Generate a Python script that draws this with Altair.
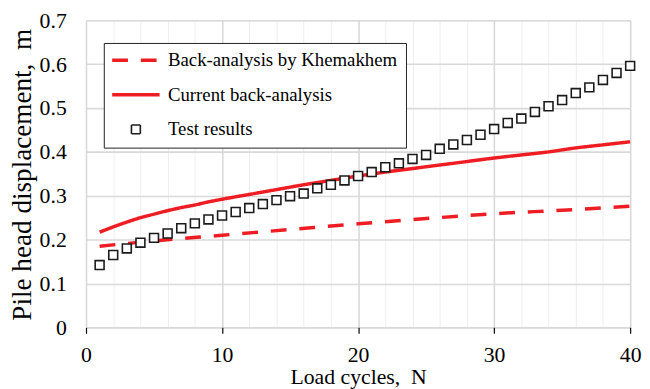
import altair as alt
import pandas as pd

series_names = ["Back-analysis by Khemakhem", "Current back-analysis", "Test results"]

test_n = list(range(1, 41))
test_disp = [0.142, 0.165, 0.180, 0.193, 0.204, 0.214, 0.226, 0.237, 0.246, 0.255,
             0.263, 0.272, 0.281, 0.290, 0.299, 0.305, 0.317, 0.325, 0.335, 0.345,
             0.354, 0.365, 0.374, 0.384, 0.393, 0.407, 0.417, 0.427, 0.439, 0.452,
             0.466, 0.476, 0.491, 0.504, 0.518, 0.534, 0.547, 0.564, 0.580, 0.596]

current_n = [1, 2, 3, 4, 5, 6, 7, 8, 9, 10, 12, 14, 16, 18, 20, 22, 24, 26, 28, 30, 32, 34, 36, 38, 40]
current_disp = [0.217, 0.229, 0.240, 0.250, 0.258, 0.266, 0.273, 0.279, 0.286, 0.292,
                0.303, 0.314, 0.325, 0.335, 0.345, 0.354, 0.362, 0.370, 0.378, 0.386,
                0.393, 0.400, 0.409, 0.416, 0.423]

khem_n = [1, 5, 10, 15, 20, 25, 30, 35, 40]
khem_disp = [0.185, 0.197, 0.210, 0.223, 0.236, 0.248, 0.259, 0.267, 0.276]

x_ticks = list(range(0, 41, 2))
y_ticks = [0, 0.1, 0.2, 0.3, 0.4, 0.5, 0.6, 0.7]

rows = []
for n, v in zip(khem_n, khem_disp):
    rows.append({"N": n, "disp": v, "series": series_names[0]})
for n, v in zip(current_n, current_disp):
    rows.append({"N": n, "disp": v, "series": series_names[1]})
for n, v in zip(test_n, test_disp):
    rows.append({"N": n, "disp": v, "series": series_names[2]})
df = pd.DataFrame(rows)

RED = "#EE1D23"
FONT = "Liberation Serif"
LINE_SYMBOL = "M-3.43,0H3.43"  # long horizontal stroke for the legend

legend = alt.Legend(
    title=None, orient="none", legendX=18, legendY=23, columns=1,
    strokeColor="#222222", fillColor="white", padding=8,
    labelFont=FONT, labelFontSize=19, labelColor="black", labelOffset=23,
    rowPadding=15, symbolOffset=15, labelLimit=400,
)

color_scale = alt.Scale(domain=series_names, range=[RED, RED, "#1a1a1a"])
dash_scale = alt.Scale(domain=series_names, range=[[16, 13], [1, 0], [1, 0]])
shape_scale = alt.Scale(domain=series_names, range=[LINE_SYMBOL, LINE_SYMBOL, "square"])
size_scale = alt.Scale(type="ordinal", domain=series_names, range=[196, 196, 81])
sw_scale = alt.Scale(type="ordinal", domain=series_names, range=[3.5, 3.5, 1.6])

cond10 = "datum.value % 10 === 0"

x_enc = alt.X(
    "N:Q",
    scale=alt.Scale(domain=[0, 40], nice=False),
    axis=alt.Axis(
        values=x_ticks,
        title="Load cycles,\u00a0 N",
        labelExpr=f"{cond10} ? datum.label : ''",
        labelFlush=False,
        grid=True,
        gridColor={"condition": {"test": cond10, "value": "#d9d9d9"}, "value": "#eeeeee"},
        gridWidth={"condition": {"test": cond10, "value": 1.6}, "value": 1},
        tickColor={"condition": {"test": cond10, "value": "black"}, "value": "transparent"},
        tickSize=6, tickWidth=1.2, domain=False,
        labelFont=FONT, labelFontSize=22, labelColor="black", labelPadding=12,
        titleFont=FONT, titleFontSize=22, titleFontWeight="normal", titleColor="black",
        titleY=57, titleBaseline="alphabetic",
    ),
)
y_enc = alt.Y(
    "disp:Q",
    scale=alt.Scale(domain=[0, 0.7], nice=False),
    axis=alt.Axis(
        values=y_ticks, format=".1~f",
        labelFlush=False,
        title="Pile head displacement,\u00a0 m",
        grid=True, gridColor="#d9d9d9", gridWidth=1.6,
        ticks=False, domain=False,
        labelFont=FONT, labelFontSize=22, labelColor="black", labelPadding=20,
        titleFont=FONT, titleFontSize=27.5, titleFontWeight="normal", titleColor="black",
        titleX=-56, titleY=156, titleBaseline="alphabetic",
    ),
)

lines = alt.Chart(df).transform_filter(
    alt.FieldOneOfPredicate(field="series", oneOf=series_names[:2])
).mark_line(interpolate="monotone").encode(
    x=x_enc, y=y_enc,
    color=alt.Color("series:N", scale=color_scale, legend=legend),
    strokeDash=alt.StrokeDash("series:N", scale=dash_scale, legend=legend),
    strokeWidth=alt.StrokeWidth("series:N", scale=sw_scale, legend=legend),
)

points = alt.Chart(df).transform_filter(
    alt.FieldEqualPredicate(field="series", equal=series_names[2])
).mark_point(filled=False, fill="white", opacity=1).encode(
    x=x_enc, y=y_enc,
    color=alt.Color("series:N", scale=color_scale, legend=legend),
    shape=alt.Shape("series:N", scale=shape_scale, legend=legend),
    size=alt.Size("series:N", scale=size_scale, legend=legend),
    strokeWidth=alt.StrokeWidth("series:N", scale=sw_scale, legend=legend),
)

chart = alt.layer(lines, points).properties(
    width=551, height=311,
    autosize=alt.AutoSizeParams(type="none"),
    padding={"left": 79, "top": 10, "right": 12, "bottom": 60},
).configure_view(
    stroke="black", strokeWidth=1.5
).configure_axis(
    labelFont=FONT, titleFont=FONT
).configure_legend(
    labelFont=FONT
).configure(font=FONT, background="white")

chart.save("out.html", embed_options={"renderer": "svg", "actions": False})
